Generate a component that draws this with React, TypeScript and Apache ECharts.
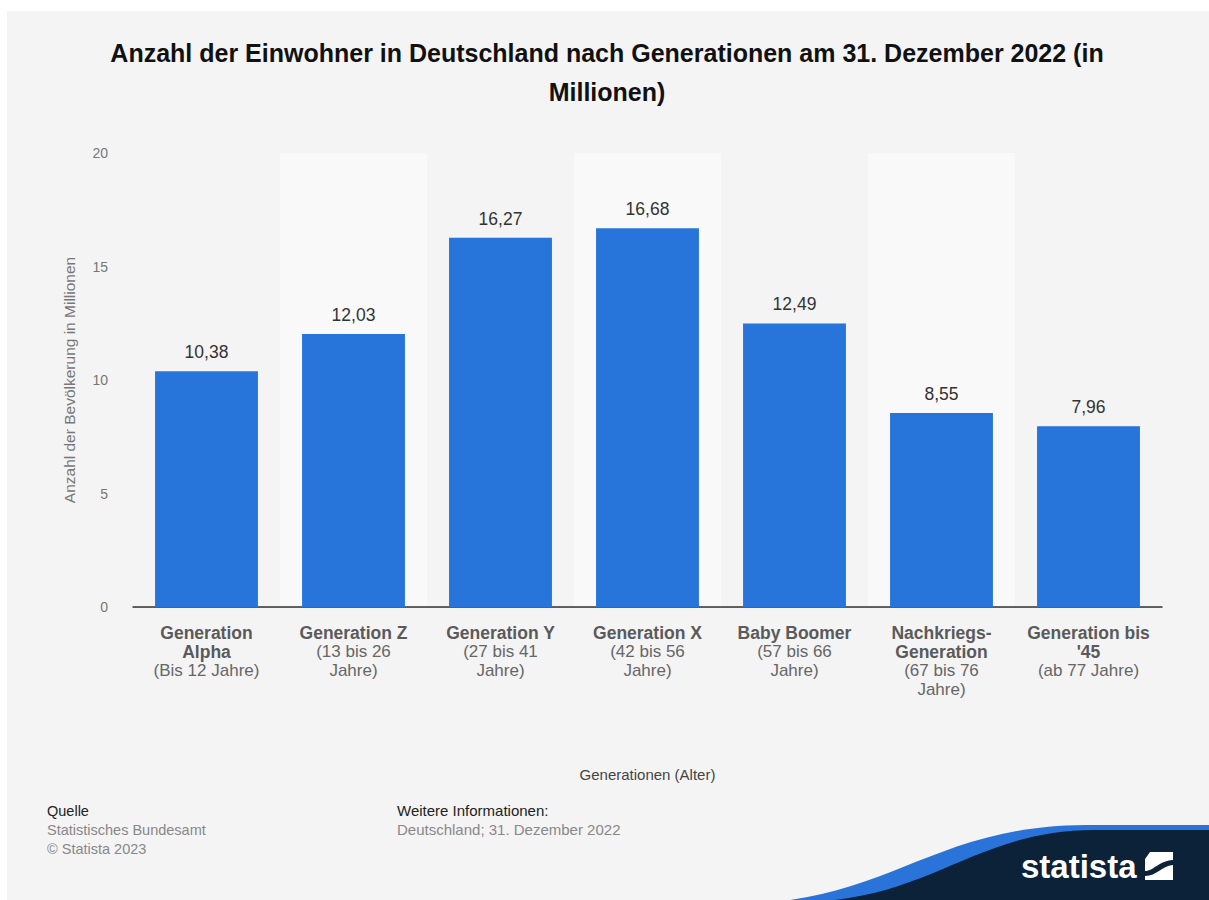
import React, { useEffect, useRef } from "react";
import * as echarts from "echarts";

const titleText = "Anzahl der Einwohner in Deutschland nach Generationen am 31. Dezember 2022 (in\nMillionen)";
const categoryNames = [
  "Generation\nAlpha",
  "Generation Z",
  "Generation Y",
  "Generation X",
  "Baby Boomer",
  "Nachkriegs-\nGeneration",
  "Generation bis\n'45",
];
const categoryAges = [
  "(Bis 12 Jahre)",
  "(13 bis 26\nJahre)",
  "(27 bis 41\nJahre)",
  "(42 bis 56\nJahre)",
  "(57 bis 66\nJahre)",
  "(67 bis 76\nJahre)",
  "(ab 77 Jahre)",
];
const values = [10.38, 12.03, 16.27, 16.68, 12.49, 8.55, 7.96];
const yTicks = [0, 5, 10, 15, 20];
const yAxisName = "Anzahl der Bevölkerung in Millionen";
const xAxisName = "Generationen (Alter)";
const sourceLines = ["Quelle", "Statistisches Bundesamt", "© Statista 2023"];
const infoLines = ["Weitere Informationen:", "Deutschland; 31. Dezember 2022"];

const FONT = "'Liberation Sans', Arial, Helvetica, sans-serif";

echarts.graphic.registerShape(
  "waveBlue",
  echarts.graphic.extendPath(
    "M 790 900 C 900 885 950 826 1085 825 L 1209 825 L 1209 900 Z",
    {}
  )
);
echarts.graphic.registerShape(
  "waveNavy",
  echarts.graphic.extendPath(
    "M 835 900 C 940 888 985 830 1095 830 L 1209 830 L 1209 900 Z",
    {}
  )
);
echarts.graphic.registerShape(
  "iconCut",
  echarts.graphic.extendPath(
    "M 0 19 C 9 19 13 9 28 8 L 28 13 C 16 14 12 24 0 24 Z M 0 0 L 5 0 L 0 7 Z",
    {}
  )
);

export default function App() {
  const ref = useRef<HTMLDivElement>(null);
  useEffect(() => {
    if (!ref.current) return;
    const chart = echarts.init(ref.current, null, { renderer: "svg" });
    const labels = categoryNames.map((n, i) => {
      const b = n.split("\n").map((l) => `{b|${l}}`).join("\n");
      const r = categoryAges[i].split("\n").map((l) => `{r|${l}}`).join("\n");
      return b + "\n" + r;
    });
    const option: any = {
      animation: false,
      backgroundColor: "#f4f4f4",
      grid: { left: 126, right: 47, top: 142, bottom: 293, containLabel: false },
      xAxis: {
        type: "category",
        data: labels,
        axisLine: { lineStyle: { color: "#333", width: 1.5 } },
        axisTick: { show: false },
        splitArea: {
          show: true,
          interval: 0,
          areaStyle: { color: ["#f4f4f4", "#f9f9f9"] },
        },
        axisLabel: {
          interval: 0,
          margin: 16,
          color: "#555",
          fontFamily: FONT,
          rich: {
            b: { fontSize: 17.5, fontWeight: "bold", color: "#5a5a5a", lineHeight: 19, fontFamily: FONT },
            r: { fontSize: 17, color: "#666", lineHeight: 19, fontFamily: FONT },
          },
        },
        name: xAxisName,
        nameLocation: "middle",
        nameGap: 160,
        nameTextStyle: { fontSize: 15, color: "#444", fontFamily: FONT },
      },
      yAxis: {
        type: "value",
        min: yTicks[0],
        max: yTicks[yTicks.length - 1],
        interval: yTicks[1] - yTicks[0],
        axisLine: { show: false },
        axisTick: { show: false },
        splitLine: { lineStyle: { color: "#c8c8c8", type: "dotted", width: 1 } },
        axisLabel: { color: "#777", fontSize: 14, margin: 25, fontFamily: FONT },
        name: yAxisName,
        nameLocation: "middle",
        nameGap: 56,
        nameTextStyle: { fontSize: 15.5, color: "#777", fontFamily: FONT },
      },
      series: [
        {
          type: "bar",
          data: values,
          barWidth: "70%",
          itemStyle: { color: "#2775db" },
          label: {
            show: true,
            position: "top",
            distance: 10,
            fontSize: 17.5,
            color: "#333",
            fontFamily: FONT,
            formatter: (p: any) => p.value.toFixed(2).replace(".", ","),
          },
        },
      ],
      graphic: [
        {
          type: "text",
          x: 600,
          y: 22,
          style: {
            text: titleText,
            fontSize: 25,
            fontWeight: "bold",
            fontFamily: FONT,
            fill: "#111",
            lineHeight: 39,
            align: "center",
            textAlign: "center",
          },
        },
        ...sourceLines.map((t, i) => ({
          type: "text",
          left: 40,
          top: 792 + i * 19,
          style: {
            text: t,
            fontSize: 14.5,
            fontFamily: FONT,
            fill: i === 0 ? "#222" : "#888",
          },
        })),
        ...infoLines.map((t, i) => ({
          type: "text",
          left: 390,
          top: 792 + i * 19,
          style: {
            text: t,
            fontSize: 15,
            fontFamily: FONT,
            fill: i === 0 ? "#222" : "#888",
          },
        })),
        {
          type: "group",
          x: -7,
          y: -11,
          children: [
            { type: "waveBlue", style: { fill: "#2a73d9" } },
            { type: "waveNavy", style: { fill: "#0c2239" } },
            {
              type: "text",
              x: 1021,
              y: 866,
              style: {
                text: "statista",
                fontSize: 33,
                fontWeight: "bold",
                fontFamily: FONT,
                fill: "#fff",
                verticalAlign: "middle",
              },
            },
            { type: "rect", shape: { x: 1145, y: 852, width: 28, height: 28 }, style: { fill: "#fff" } },
            { type: "iconCut", x: 1145, y: 852, style: { fill: "#0c2239" } },
          ],
        },
      ],
    };
    chart.setOption(option);
    return () => chart.dispose();
  }, []);
  return (
    <div style={{ position: "fixed", left: 0, top: 0, width: 1209, height: 900, background: "#fff" }}>
      <div ref={ref} style={{ position: "absolute", left: 7, top: 11, width: 1202, height: 889 }} />
    </div>
  );
}
